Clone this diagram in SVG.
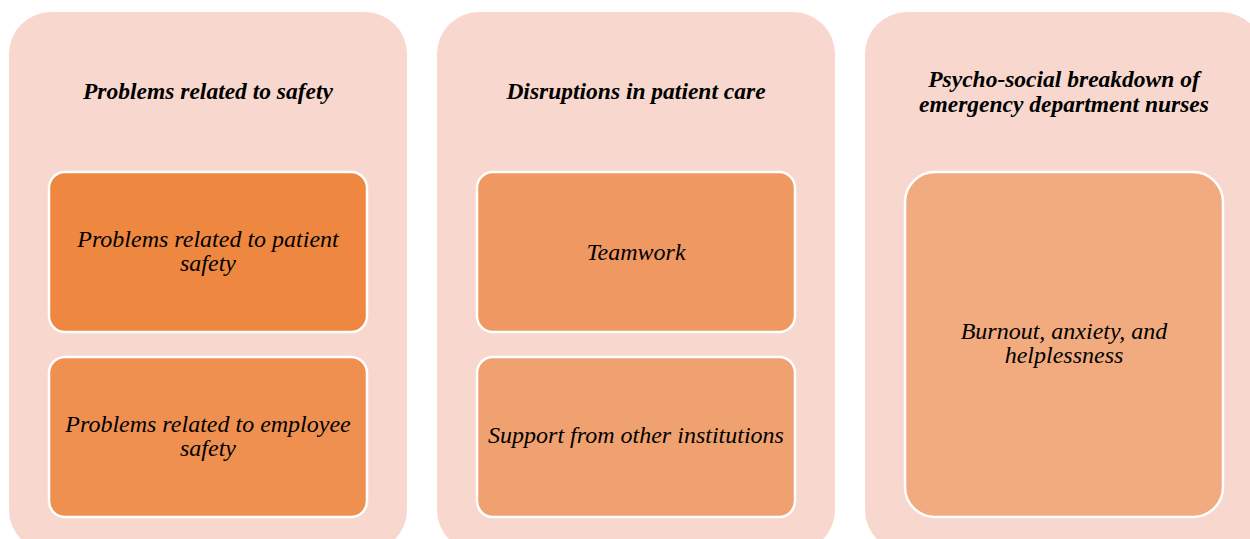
<svg xmlns="http://www.w3.org/2000/svg" width="1250" height="539" viewBox="0 0 1250 539">
  <style>
    .panel { fill: #F8D8CE; }
    .box { stroke: #FFFFFF; stroke-width: 2.5; }
    .head { font-family: "Liberation Serif", "Times New Roman", serif; font-size: 23.5px; font-weight: bold; font-style: italic; fill: #000000; text-anchor: middle; }
    .label { font-family: "Liberation Serif", "Times New Roman", serif; font-size: 24px; font-style: italic; fill: #000000; text-anchor: middle; }
  </style>
  <rect width="1250" height="539" fill="#FFFFFF"/>

  <!-- Column 1: safety -->
  <g id="col-safety">
    <rect class="panel" x="9" y="12" width="398" height="540" rx="42"/>
    <text class="head" x="208" y="99">Problems related to safety</text>
  </g>
  <g id="node-patient-safety">
    <rect class="box" x="49" y="172" width="318" height="160" rx="16" fill="#EE8740"/>
    <text class="label" x="208" y="247">Problems related to patient</text>
    <text class="label" x="208" y="271">safety</text>
  </g>
  <g id="node-employee-safety">
    <rect class="box" x="49" y="357" width="318" height="160" rx="16" fill="#EF9051"/>
    <text class="label" x="208" y="432">Problems related to employee</text>
    <text class="label" x="208" y="456">safety</text>
  </g>

  <!-- Column 2: patient care -->
  <g id="col-care">
    <rect class="panel" x="437" y="12" width="398" height="540" rx="42"/>
    <text class="head" x="636" y="99">Disruptions in patient care</text>
  </g>
  <g id="node-teamwork">
    <rect class="box" x="477" y="172" width="318" height="160" rx="16" fill="#F09862"/>
    <text class="label" x="636" y="260">Teamwork</text>
  </g>
  <g id="node-support">
    <rect class="box" x="477" y="357" width="318" height="160" rx="16" fill="#F0A170"/>
    <text class="label" x="636" y="443">Support from other institutions</text>
  </g>

  <!-- Column 3: psycho-social -->
  <g id="col-psychosocial">
    <rect class="panel" x="865" y="12" width="398" height="540" rx="42"/>
    <text class="head" x="1064" y="87">Psycho-social breakdown of</text>
    <text class="head" x="1064" y="112">emergency department nurses</text>
  </g>
  <g id="node-burnout">
    <rect class="box" x="905" y="172" width="318" height="345" rx="30" fill="#F1AB7F"/>
    <text class="label" x="1064" y="339">Burnout, anxiety, and</text>
    <text class="label" x="1064" y="363">helplessness</text>
  </g>

  <g id="connectors"/>
</svg>
